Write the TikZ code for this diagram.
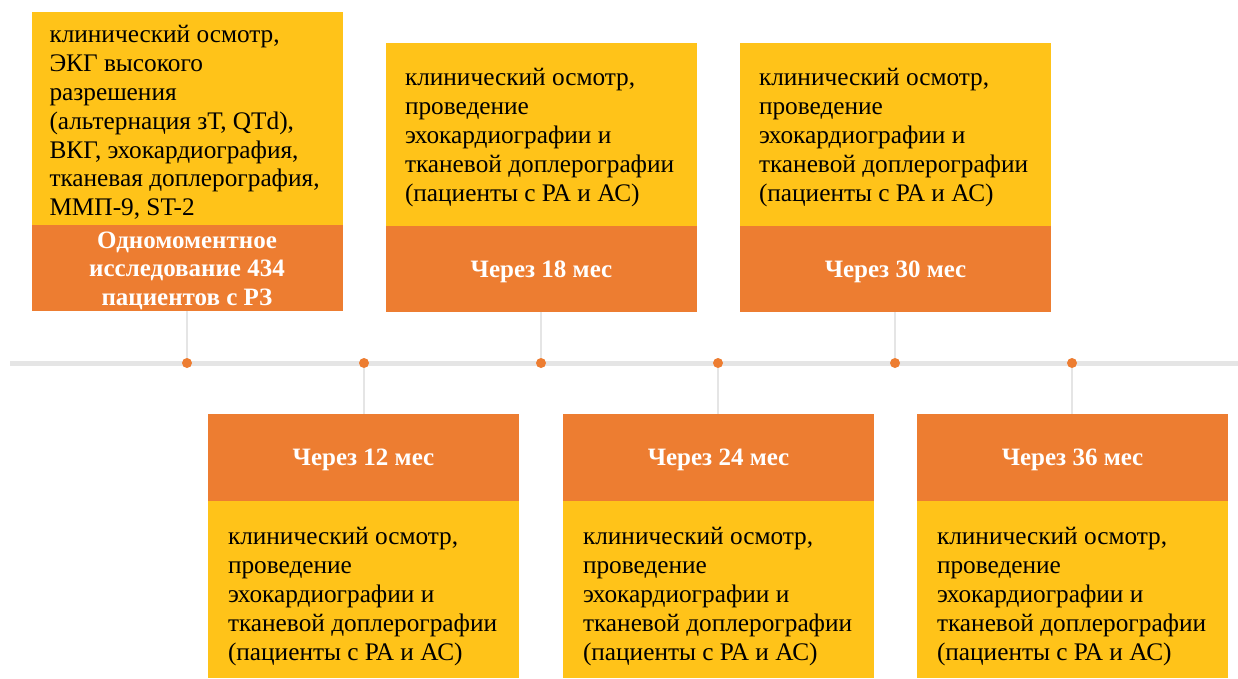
\documentclass[tikz,border=0pt]{standalone}
\usepackage{fontspec}
\setmainfont{Liberation Serif}
\definecolor{ybg}{HTML}{FFC319}
\definecolor{obg}{HTML}{ED7D31}
\definecolor{tline}{HTML}{E5E5E5}
\begin{document}
\begin{tikzpicture}[x=1pt,y=-1pt,
  ybox/.style={rectangle, fill=ybg, draw=none, minimum width=311pt, inner sep=0pt},
  obox/.style={rectangle, fill=obg, draw=none, minimum width=311pt, inner sep=0pt},
  otext/.style={inner sep=0pt, text=white, font=\fontsize{25}{28.5}\selectfont\bfseries, align=center, yshift=-2.5pt},
  ytext/.style={anchor=west, align=left, inner sep=0pt, font=\fontsize{25.3}{28.8}\selectfont},
  dot/.style={circle, fill=obg, minimum size=10pt, inner sep=0pt},
  conn/.style={draw=tline, line width=2pt}]
\path[use as bounding box, fill=white] (0,0) rectangle (1238,678);
% timeline
\coordinate (tlA) at (10,363);
\coordinate (tlB) at (1238,363);
\draw[tline, line width=5pt] (tlA) -- (tlB);
% boxes top
\node[ybox, minimum height=213pt] (y1) at (187,118.5) {};
\node[obox, minimum height=86pt] (o1) at (187,268) {};
\node[otext] (h1) at (o1.center) {Одномоментное\\исследование 434\\пациентов с РЗ};
\node[ytext] (t1) at ([xshift=18pt,yshift=-4pt]y1.west) {клинический осмотр,\\ЭКГ высокого\\разрешения\\(альтернация зТ, QTd),\\ВКГ, эхокардиография,\\тканевая доплерография,\\ММП-9, ST-2};

\node[ybox, minimum height=183pt] (y3) at (541.5,134.5) {};
\node[obox, minimum height=86pt] (o3) at (541.5,269) {};
\node[otext] (h3) at (o3.center) {Через 18 мес};
\node[ytext] (t3) at ([xshift=19pt,yshift=-3pt]y3.west) {клинический осмотр,\\проведение\\эхокардиографии и\\тканевой доплерографии\\(пациенты с РА и АС)};

\node[ybox, minimum height=183pt] (y5) at (895.5,134.5) {};
\node[obox, minimum height=86pt] (o5) at (895.5,269) {};
\node[otext] (h5) at (o5.center) {Через 30 мес};
\node[ytext] (t5) at ([xshift=19pt,yshift=-3pt]y5.west) {клинический осмотр,\\проведение\\эхокардиографии и\\тканевой доплерографии\\(пациенты с РА и АС)};

% boxes bottom
\node[obox, minimum height=87pt] (o2) at (363.5,457.5) {};
\node[otext] (h2) at (o2.center) {Через 12 мес};
\node[ybox, minimum height=177pt] (y2) at (363.5,589.5) {};
\node[ytext] (t2) at ([xshift=20pt,yshift=-7pt]y2.west) {клинический осмотр,\\проведение\\эхокардиографии и\\тканевой доплерографии\\(пациенты с РА и АС)};

\node[obox, minimum height=87pt] (o4) at (718.5,457.5) {};
\node[otext] (h4) at (o4.center) {Через 24 мес};
\node[ybox, minimum height=177pt] (y4) at (718.5,589.5) {};
\node[ytext] (t4) at ([xshift=20pt,yshift=-7pt]y4.west) {клинический осмотр,\\проведение\\эхокардиографии и\\тканевой доплерографии\\(пациенты с РА и АС)};

\node[obox, minimum height=87pt] (o6) at (1072.5,457.5) {};
\node[otext] (h6) at (o6.center) {Через 36 мес};
\node[ybox, minimum height=177pt] (y6) at (1072.5,589.5) {};
\node[ytext] (t6) at ([xshift=20pt,yshift=-7pt]y6.west) {клинический осмотр,\\проведение\\эхокардиографии и\\тканевой доплерографии\\(пациенты с РА и АС)};

% dots
\node[dot] (d1) at (187,363) {};
\node[dot] (d2) at (364,363) {};
\node[dot] (d3) at (541,363) {};
\node[dot] (d4) at (718,363) {};
\node[dot] (d5) at (895,363) {};
\node[dot] (d6) at (1072,363) {};
% connectors
\draw[conn] (o1.south -| d1) -- (d1.north);
\draw[conn] (o3.south -| d3) -- (d3.north);
\draw[conn] (o5.south -| d5) -- (d5.north);
\draw[conn] (d2.south) -- (o2.north -| d2);
\draw[conn] (d4.south) -- (o4.north -| d4);
\draw[conn] (d6.south) -- (o6.north -| d6);
\end{tikzpicture}
\end{document}
